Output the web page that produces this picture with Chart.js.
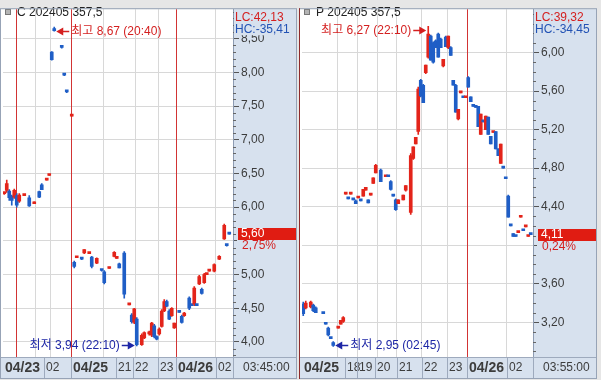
<!DOCTYPE html>
<html><head><meta charset="utf-8">
<script src="https://cdn.jsdelivr.net/npm/chart.js@4.4.1/dist/chart.umd.min.js"></script>
<style>
html,body{margin:0;padding:0;background:#e6e6e6;width:601px;height:380px;overflow:hidden}
canvas{position:absolute;top:0}
#c1{left:0}
#c2{left:298px}
</style></head><body>
<canvas id="c1" width="298" height="380"></canvas>
<canvas id="c2" width="303" height="380"></canvas>
<script>
// ===== Panel 1 : C 202405 357,5 =====
const cName = 'C 202405 357,5';
const cSlots = [0,1,2,3,4,5,6,8,10,12,14,15,17,18,19,20,23,24,25,27,28,29,31,32,34,35,37,39,40,42,44,45,46,48,50,51,52,53,55,56,58,59,60,61,62,63,64,65,66,67,68,70,71,72,74,75,76,77,78,79,80,81,82,84,86,88,89,90];
const cOpen  = [6.20,6.25,6.24,6.16,6.15,6.17,6.09,6.17,6.14,6.05,6.23,6.33,6.40,6.47,8.30,8.63,8.38,7.98,7.73,7.35,5.18,5.25,5.24,5.32,5.31,5.26,5.17,5.07,5.04,5.09,5.27,5.24,5.16,5.32,4.55,4.40,4.29,4.34,3.96,4.06,4.12,4.10,4.24,4.08,4.12,4.23,4.46,4.60,4.46,4.39,4.21,4.46,4.38,4.39,4.65,4.55,4.56,4.55,4.86,4.78,4.88,5.00,5.05,5.05,5.23,5.53,5.44,5.61];
const cHigh  = [6.22,6.40,6.26,6.18,6.27,6.20,6.20,6.18,6.17,6.08,6.24,6.35,6.41,6.48,8.31,8.67,8.38,7.98,7.73,7.37,5.20,5.26,5.24,5.37,5.32,5.27,5.25,5.07,5.06,5.11,5.34,5.25,5.17,5.34,4.57,4.42,4.50,4.36,4.12,4.15,4.16,4.29,4.26,4.09,4.21,4.48,4.63,4.62,4.48,4.51,4.28,4.46,4.40,4.44,4.67,4.55,4.82,4.55,4.99,4.80,5.02,5.01,5.06,5.16,5.28,5.75,5.44,5.61];
const cLow   = [6.19,6.22,6.10,6.03,6.13,6.00,6.07,6.17,6.01,6.05,6.14,6.26,6.40,6.47,8.18,8.61,8.36,7.95,7.70,7.35,5.10,5.25,5.22,5.31,5.31,5.10,5.16,5.05,4.86,5.09,5.26,5.24,5.10,4.65,4.55,4.28,4.27,3.94,3.95,4.05,4.10,4.08,4.06,4.03,4.10,4.22,4.45,4.52,4.33,4.38,4.20,4.44,4.28,4.38,4.48,4.54,4.54,4.54,4.85,4.71,4.87,5.00,5.05,5.04,5.22,5.52,5.42,5.60];
const cClose = [6.21,6.35,6.14,6.10,6.25,6.03,6.18,6.18,6.02,6.08,6.15,6.26,6.41,6.48,8.19,8.62,8.37,7.96,7.71,7.37,5.12,5.26,5.23,5.37,5.32,5.12,5.24,5.06,4.88,5.11,5.33,5.25,5.10,4.71,4.57,4.30,4.49,3.96,4.10,4.14,4.14,4.28,4.08,4.04,4.19,4.46,4.60,4.53,4.34,4.50,4.28,4.44,4.29,4.43,4.50,4.54,4.80,4.54,4.97,4.72,5.00,5.01,5.06,5.15,5.27,5.73,5.43,5.60];
const cYTicks = [8.5,8.0,7.5,7.0,6.5,6.0,5.5,5.0,4.5,4.0];
const cYRange = [3.777, 8.937];
const cXRange = [-0.5, 91.5];
const cGridSlots = [4.5,12.5,18.5,26.5,39.5,52.5,61.5,68.5,84.5];
const cDaySlots = [4.5,26.5,68.5];
const cTimeLabels = ['04/23','02','04/25','21','22','23','04/26','02'];
const cTimeSlots = [-0.5,16,26.5,44.5,51.5,61.5,68.5,84.5];
const cTimeBold = [true,false,true,false,false,false,true,false];
const cClock = '03:45:00';
const cLC = 42.13, cHC = -35.41, cChangePct = 2.75;
const cHighTime = '20:40', cLowTime = '22:10';

// ===== Panel 2 : P 202405 357,5 =====
const pName = 'P 202405 357,5';
const pSlots = [0,1,3,4,5,8,9,10,11,12,14,15,16,17,18,19,20,21,22,23,24,25,26,27,28,29,31,33,34,35,36,37,38,40,41,43,44,45,46,47,48,49,50,51,52,53,54,55,56,57,58,59,60,61,62,63,64,65,66,67,68,69,70,71,72,73,74,75,76,77,78,79,80,81,82,83,84,85,86,87,88,89,90,91];
const pOpen  = [3.39,3.35,3.36,3.38,3.35,3.30,3.19,3.14,3.04,2.99,3.14,3.18,3.21,4.53,4.49,4.53,4.48,4.46,4.49,4.47,4.51,4.57,4.47,4.52,4.64,4.75,4.78,4.71,4.72,4.66,4.52,4.47,4.43,4.47,4.57,4.34,4.90,5.05,5.18,5.71,5.66,5.79,5.95,6.17,6.10,6.12,6.19,6.14,5.86,6.16,6.05,6.05,5.71,5.66,5.31,5.58,5.54,5.53,5.74,5.54,5.45,5.44,5.44,5.15,5.29,5.20,5.33,5.13,5.17,5.18,5.00,4.85,4.81,4.70,4.51,4.21,4.12,4.10,4.13,4.29,4.16,4.19,4.09,4.12];
const pHigh  = [3.41,3.42,3.42,3.39,3.36,3.30,3.19,3.15,3.04,3.00,3.15,3.22,3.26,4.54,4.49,4.54,4.48,4.47,4.50,4.47,4.58,4.60,4.47,4.53,4.70,4.84,4.79,4.72,4.72,4.67,4.52,4.48,4.47,4.52,4.62,4.95,5.02,5.12,5.64,5.72,5.67,5.87,6.27,6.18,6.11,6.13,6.20,6.15,5.93,6.17,6.17,6.06,5.71,5.67,5.41,5.59,5.54,5.54,5.75,5.54,5.45,5.44,5.44,5.36,5.29,5.34,5.33,5.13,5.18,5.18,5.00,5.05,4.81,4.70,4.52,4.21,4.12,4.10,4.14,4.30,4.16,4.20,4.10,4.12];
const pLow   = [3.27,3.34,3.35,3.31,3.30,3.29,3.18,3.06,3.03,2.95,3.14,3.18,3.20,4.53,4.48,4.53,4.47,4.43,4.49,4.46,4.51,4.57,4.44,4.52,4.64,4.75,4.66,4.71,4.71,4.57,4.51,4.36,4.43,4.47,4.56,4.32,4.89,5.05,5.15,5.54,5.48,5.78,5.94,5.92,5.89,6.05,5.95,6.05,5.85,6.06,6.04,5.97,5.66,5.38,5.30,5.58,5.53,5.53,5.64,5.49,5.44,5.43,5.23,5.15,5.28,5.20,5.15,5.05,5.17,5.00,4.93,4.85,4.80,4.69,4.29,4.20,4.09,4.09,4.13,4.29,4.15,4.19,4.09,4.11];
const pClose = [3.29,3.40,3.41,3.32,3.30,3.29,3.18,3.07,3.03,2.96,3.15,3.22,3.25,4.54,4.48,4.54,4.47,4.43,4.50,4.46,4.58,4.60,4.44,4.53,4.70,4.83,4.66,4.72,4.71,4.58,4.51,4.37,4.47,4.52,4.62,4.93,5.02,5.12,5.62,5.55,5.48,5.87,6.19,5.92,5.90,6.05,5.95,6.05,5.93,6.06,6.17,5.97,5.66,5.38,5.41,5.59,5.53,5.54,5.64,5.49,5.44,5.43,5.23,5.36,5.28,5.34,5.15,5.05,5.18,5.00,4.93,5.05,4.80,4.69,4.29,4.20,4.09,4.09,4.14,4.30,4.15,4.20,4.10,4.11];
const pYTicks = [6.0,5.6,5.2,4.8,4.4,4.0,3.6,3.2];
const pYRange = [2.84, 6.449];
const pXRange = [-0.5, 91.9];
const pGridSlots = [13.5,21.5,29.5,37.5,47.5,57.5,65.5,81.5];
const pDaySlots = [65.5];
const pTimeLabels = ['04/25','18','19','20','21','22','23','04/26','02'];
const pTimeSlots = [-0.5,16.5,21.5,28.5,37.5,47.5,57.5,65.5,81.5];
const pTimeBold = [true,false,false,false,false,false,false,true,false];
const pClock = '03:55:00';
const pLC = 39.32, pHC = -34.45, pChangePct = 0.24;
const pHighTime = '22:10', pLowTime = '02:45';

// ===== styling =====
const FONT = "'Liberation Sans', 'Noto Sans CJK KR', sans-serif";
const RED = '#e3241a', BLUE = '#1f5ec6', GRID = '#d8d8d8', DAY = '#d23434';
const AXBG = '#d7e1ee', SEP = '#9eaabd', TXT = '#3c3c3c';
const HIGHC = '#d41f1f', LOWC = '#1d26a6';
const AXW = 64, BAND = 21;

function fmt(v) { return v.toFixed(2).replace('.', ','); }

function argExt(arr, useMax) {
  let k = 0;
  arr.forEach((v, i) => { if (useMax ? v > arr[k] : v < arr[k]) k = i; });
  return k;
}

function drawArrowNote(ctx, xs, ys, slot, value, time, kind, side) {
  const px = xs.getPixelForValue(slot);
  const py = Math.round(ys.getPixelForValue(value) + (kind === 'high' ? 4 : -1)) + 0.5;
  const color = kind === 'high' ? HIGHC : LOWC;
  const label = (kind === 'high' ? '최고 ' : '최저 ') + fmt(value) + ' (' + time + ')';
  ctx.fillStyle = color; ctx.strokeStyle = color; ctx.lineWidth = 1.5;
  ctx.font = '12px ' + FONT; ctx.textBaseline = 'middle';
  const s = side === 'right' ? 1 : -1;
  const tip = px + s * 2;
  ctx.beginPath();
  ctx.moveTo(tip, py); ctx.lineTo(tip + s * 7, py - 4); ctx.lineTo(tip + s * 7, py + 4);
  ctx.closePath(); ctx.fill();
  ctx.beginPath(); ctx.moveTo(tip + s * 6, py); ctx.lineTo(tip + s * 13, py); ctx.stroke();
  ctx.textAlign = side === 'right' ? 'left' : 'right';
  ctx.fillText(label, tip + s * 15, py);
}

function makePanel(id, d) {
  const up = i => d.close[i] >= d.open[i];
  const col = c => up(c.dataIndex) ? RED : BLUE;
  const wick = d.slots.map((s, i) => ({x: s, y: [d.low[i], d.high[i]]}));
  const body = d.slots.map((s, i) => ({x: s, y: [Math.min(d.open[i], d.close[i]), Math.max(d.open[i], d.close[i])]}));
  const hi = argExt(d.high, true), lo = argExt(d.low, false);

  const deco = {
    id: 'deco' + id,
    beforeDraw(chart) {
      const {ctx, chartArea: a, width, height} = chart;
      ctx.save();
      ctx.fillStyle = '#e6e6e6'; ctx.fillRect(0, 0, width, height);
      ctx.fillStyle = '#ffffff'; ctx.fillRect(d.panelLeft, a.top, a.right - d.panelLeft, a.bottom - a.top);
      ctx.fillStyle = AXBG; ctx.fillRect(a.right, a.top, AXW, a.bottom - a.top);
      ctx.restore();
    },
    beforeDatasetsDraw(chart) {
      const {ctx, chartArea: a, scales: {x: xs}} = chart;
      ctx.save();
      ctx.strokeStyle = DAY; ctx.lineWidth = 1;
      d.days.forEach(s => {
        const px = Math.round(xs.getPixelForValue(s)) + 0.5;
        ctx.beginPath(); ctx.moveTo(px, a.top); ctx.lineTo(px, a.bottom); ctx.stroke();
      });
      ctx.restore();
    },
    afterDraw(chart) {
      const {ctx, chartArea: a, scales: {x: xs, y: ys}} = chart;
      ctx.save();
      // minor ticks
      ctx.strokeStyle = '#666'; ctx.lineWidth = 1;
      for (let k = Math.ceil(ys.min * 10); k <= Math.floor(ys.max * 10); k++) {
        const v = k / 10;
        if (d.yTicks.some(t => Math.abs(t - v) < 1e-6)) continue;
        const py = Math.round(ys.getPixelForValue(v)) + 0.5;
        ctx.beginPath(); ctx.moveTo(a.right, py); ctx.lineTo(a.right + 3, py); ctx.stroke();
      }
      // bottom time band
      const bt = a.bottom, right = a.right + AXW;
      ctx.fillStyle = AXBG; ctx.fillRect(d.panelLeft, bt, right - d.panelLeft, BAND);
      ctx.strokeStyle = SEP; ctx.lineWidth = 1;
      ctx.beginPath();
      ctx.moveTo(d.panelLeft, bt + 0.5); ctx.lineTo(right, bt + 0.5);
      ctx.moveTo(d.panelLeft, bt + BAND + 0.5); ctx.lineTo(right, bt + BAND + 0.5);
      ctx.stroke();
      ctx.textBaseline = 'middle'; ctx.textAlign = 'left'; ctx.fillStyle = TXT;
      d.timeSlots.forEach((s, i) => {
        const px = Math.round(xs.getPixelForValue(s));
        if (i > 0) {
          ctx.beginPath(); ctx.moveTo(px + 0.5, bt); ctx.lineTo(px + 0.5, bt + BAND); ctx.stroke();
        }
        ctx.font = (d.timeBold[i] ? 'bold 14px ' : '12px ') + FONT;
        ctx.fillText(d.timeLabels[i], px + 2, bt + 11);
      });
      ctx.beginPath(); ctx.moveTo(a.right + 0.5, bt); ctx.lineTo(a.right + 0.5, bt + BAND); ctx.stroke();
      ctx.font = '12px ' + FONT;
      ctx.fillText(d.clock, a.right + 10, bt + 11);
      // LC / HC
      ctx.fillStyle = AXBG; ctx.fillRect(a.right + 1, a.top + 1, AXW - 2, 25);
      ctx.font = '12px ' + FONT;
      ctx.fillStyle = '#d42020'; ctx.fillText('LC:' + fmt(d.lc), a.right + 2, a.top + 8);
      ctx.fillStyle = '#2252b4'; ctx.fillText('HC:' + fmt(d.hc), a.right + 2, a.top + 20);
      // title
      ctx.fillStyle = '#b4b4b4'; ctx.fillRect(a.left + 2, 9, 6, 6);
      ctx.strokeStyle = '#777'; ctx.strokeRect(a.left + 2.5, 9.5, 5, 5);
      ctx.fillStyle = '#222'; ctx.fillText(d.name, a.left + 14, 12.5);
      // last price box
      const last = d.close[d.close.length - 1];
      const yv = Math.round(ys.getPixelForValue(last));
      ctx.fillStyle = '#e01c12'; ctx.fillRect(a.right + 5, yv - 6, AXW - 6, 12);
      ctx.fillStyle = '#ffffff'; ctx.fillText(fmt(last), a.right + 8, yv);
      ctx.fillStyle = AXBG; ctx.fillRect(a.right + 4, yv + 6, AXW - 5, 12);
      ctx.fillStyle = '#d42020'; ctx.fillText(fmt(d.pct) + '%', a.right + 9, yv + 12);
      // high / low notes
      drawArrowNote(ctx, xs, ys, d.slots[hi], d.high[hi], d.highTime, 'high', d.highSide);
      drawArrowNote(ctx, xs, ys, d.slots[lo], d.low[lo], d.lowTime, 'low', d.lowSide);
      // frame
      ctx.lineWidth = 1;
      ctx.strokeStyle = '#97a3b6';
      ctx.strokeRect(d.panelLeft - 0.5, a.top - 0.5, right - d.panelLeft, bt + BAND - a.top + 1);
      if (d.activeEdge) {
        ctx.strokeStyle = '#8e2a2a';
        ctx.beginPath(); ctx.moveTo(d.panelLeft - 0.5, a.top - 1); ctx.lineTo(d.panelLeft - 0.5, bt + BAND + 1); ctx.stroke();
      }
      ctx.restore();
    }
  };

  return new Chart(document.getElementById(id), {
    type: 'bar',
    data: {
      datasets: [
        {data: wick, backgroundColor: col, barThickness: 1, grouped: false, order: 2, borderWidth: 0},
        {data: body, backgroundColor: col, barThickness: 3, grouped: false, order: 1, borderWidth: 0, minBarLength: 2}
      ]
    },
    options: {
      responsive: false, animation: false, events: [], devicePixelRatio: 1,
      layout: {padding: d.padding},
      plugins: {legend: {display: false}, tooltip: {enabled: false}},
      scales: {
        x: {
          type: 'linear', min: d.xRange[0], max: d.xRange[1], offset: false,
          afterBuildTicks: s => { s.ticks = d.grid.filter(v => !d.days.includes(v)).map(v => ({value: v})); },
          afterFit: s => { s.height = 0; },
          grid: {offset: false, drawTicks: false, color: GRID},
          border: {display: false},
          ticks: {display: false}
        },
        y: {
          position: 'right', min: d.yRange[0], max: d.yRange[1],
          afterBuildTicks: s => { s.ticks = d.yTicks.map(v => ({value: v})); },
          afterFit: s => { s.width = AXW; },
          grid: {color: GRID, tickColor: '#555', tickLength: 6, drawTicks: true},
          border: {display: true, color: '#8d9bb2'},
          ticks: {color: TXT, font: {family: FONT, size: 12}, padding: 2, autoSkip: false, callback: v => fmt(v)}
        }
      }
    },
    plugins: [deco]
  });
}

makePanel('c1', {
  name: cName, slots: cSlots, open: cOpen, high: cHigh, low: cLow, close: cClose,
  yTicks: cYTicks, yRange: cYRange, xRange: cXRange, grid: cGridSlots, days: cDaySlots,
  timeLabels: cTimeLabels, timeSlots: cTimeSlots, timeBold: cTimeBold, clock: cClock,
  lc: cLC, hc: cHC, pct: cChangePct, highTime: cHighTime, lowTime: cLowTime,
  highSide: 'right', lowSide: 'left',
  panelLeft: 1, activeEdge: false, padding: {left: 3, right: 1, top: 3, bottom: 23}
});
makePanel('c2', {
  name: pName, slots: pSlots, open: pOpen, high: pHigh, low: pLow, close: pClose,
  yTicks: pYTicks, yRange: pYRange, xRange: pXRange, grid: pGridSlots, days: pDaySlots,
  timeLabels: pTimeLabels, timeSlots: pTimeSlots, timeBold: pTimeBold, clock: pClock,
  lc: pLC, hc: pHC, pct: pChangePct, highTime: pHighTime, lowTime: pLowTime,
  highSide: 'left', lowSide: 'right',
  panelLeft: 2, activeEdge: true, padding: {left: 4, right: 4, top: 3, bottom: 23}
});
</script>
</body></html>
